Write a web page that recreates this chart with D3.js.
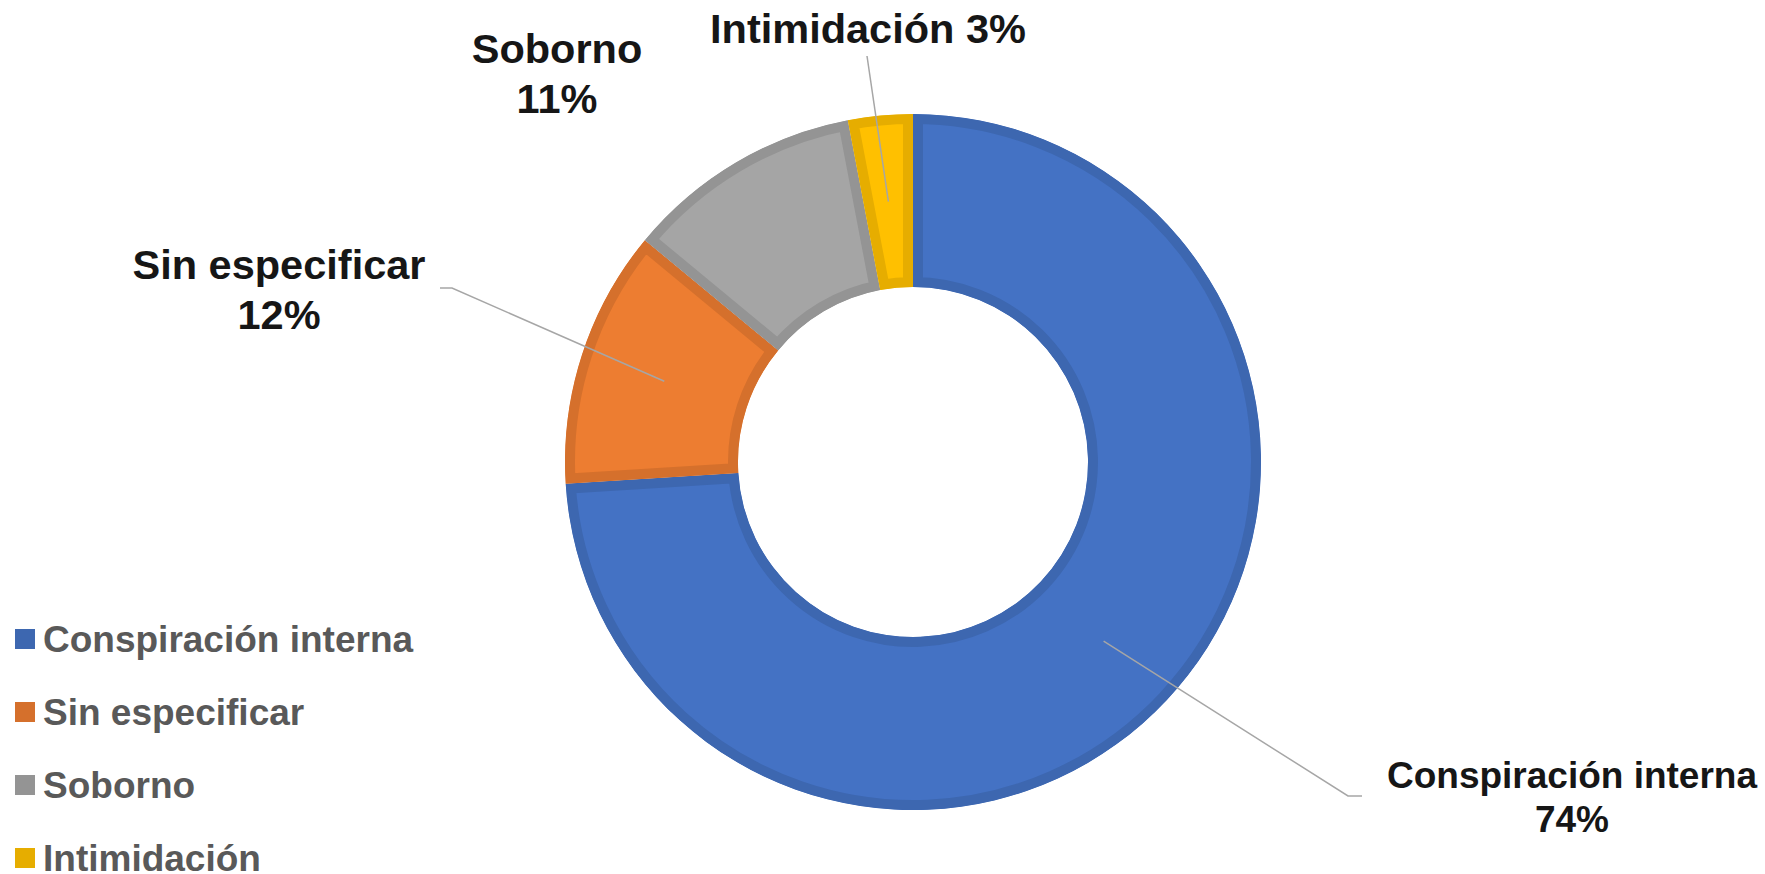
<!DOCTYPE html>
<html>
<head>
<meta charset="utf-8">
<script src="https://cdn.jsdelivr.net/npm/d3@7"></script>
<style>
  html, body { margin: 0; padding: 0; background: #fff; }
  svg { display: block; font-family: "Liberation Sans", Arial, sans-serif; }
</style>
</head>
<body>
<div id="chart"></div>
<script>
// data
const categories = ["Conspiración interna", "Sin especificar", "Soborno", "Intimidación"];
const values = [74, 12, 11, 3];
const fillColors = ["#4472C4", "#ED7D31", "#A5A5A5", "#FFC000"];
const borderColors = ["#3D67B0", "#D5702C", "#949494", "#E6AD00"];

// label layout (dragged labels, like in the original)
const labelLayout = [
    { x: 1572, y: 788, size: 37, lines: 2, leader: [[1362, 796], [1348, 796]] },
    { x: 279, y: 279, size: 41.5, lines: 2, leader: [[440, 288], [452, 288]] },
    { x: 557, y: 63, size: 41.5, lines: 2, leader: null },
    { x: 868, y: 43, size: 41.5, lines: 1, leader: [[867, 56]] }
];

function drawChart() {
    d3.select("#chart svg").remove();

    const width = 1765;
    const height = 874;
    const cx = 913, cy = 462;
    const outerR = 348, innerR = 175;

    const svg = d3.select("#chart")
        .append("svg")
        .attr("width", width)
        .attr("height", height);

    const data = categories.map((c, i) => ({ name: c, value: values[i], i: i }));
    const total = d3.sum(values);

    const pie = d3.pie()
        .sort(null)
        .value(d => d.value);

    const arc = d3.arc()
        .innerRadius(innerR)
        .outerRadius(outerR);

    const arcs = pie(data);

    const g = svg.append("g")
        .attr("transform", `translate(${cx}, ${cy})`);

    const defs = svg.append("defs");
    arcs.forEach((d, i) => {
        defs.append("clipPath")
            .attr("id", "clip" + i)
            .append("path")
            .attr("d", arc(d));
    });

    g.selectAll("path.slice")
        .data(arcs)
        .enter()
        .append("path")
        .attr("class", "slice")
        .attr("d", arc)
        .attr("clip-path", (d, i) => `url(#clip${i})`)
        .style("fill", d => fillColors[d.data.i])
        .style("stroke", d => borderColors[d.data.i])
        .style("stroke-width", 20)
        .style("stroke-linejoin", "miter");

    // leader lines
    arcs.forEach((d, i) => {
        const lay = labelLayout[i];
        if (!lay.leader) return;
        const c = arc.centroid(d);
        const pts = lay.leader.concat([[cx + c[0], cy + c[1]]]);
        svg.append("path")
            .attr("d", d3.line()(pts))
            .style("fill", "none")
            .style("stroke", "#A6A6A6")
            .style("stroke-width", 1.5);
    });

    // data labels
    arcs.forEach((d, i) => {
        const lay = labelLayout[i];
        const pct = Math.round(d.data.value / total * 100) + "%";
        const t = svg.append("text")
            .attr("x", lay.x)
            .attr("y", lay.y)
            .attr("text-anchor", "middle")
            .style("font-size", lay.size + "px")
            .style("font-weight", "bold")
            .style("fill", "#161616");
        if (lay.lines === 2) {
            t.append("tspan").attr("x", lay.x).text(d.data.name);
            t.append("tspan").attr("x", lay.x).attr("dy", lay.size * 1.2).text(pct);
        } else {
            t.text(d.data.name + " " + pct);
        }
    });

    // legend
    const legendY = d3.scalePoint()
        .domain(categories)
        .range([639, 858]);

    const legend = svg.selectAll("g.legend")
        .data(data)
        .enter()
        .append("g")
        .attr("class", "legend")
        .attr("transform", d => `translate(15, ${legendY(d.name)})`);

    legend.append("rect")
        .attr("x", 0)
        .attr("y", -10)
        .attr("width", 20)
        .attr("height", 20)
        .style("fill", d => borderColors[d.i]);

    legend.append("text")
        .attr("x", 28)
        .attr("y", 13)
        .style("font-size", "37px")
        .style("font-weight", "bold")
        .style("fill", "#595959")
        .text(d => d.name);
}

drawChart();
</script>
</body>
</html>
